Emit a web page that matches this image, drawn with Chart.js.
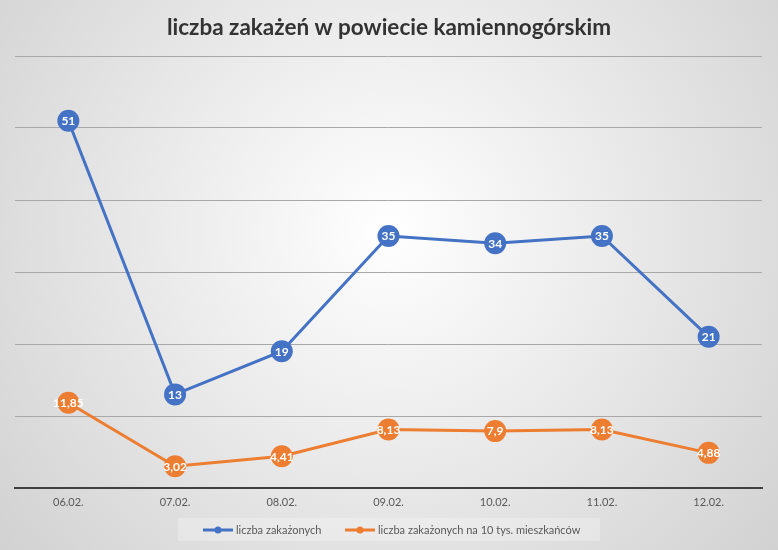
<!DOCTYPE html>
<html><head><meta charset="utf-8">
<script src="https://cdn.jsdelivr.net/npm/chart.js@4/dist/chart.umd.min.js"></script>
<style>html,body{margin:0;padding:0;background:#fff}#wrap{width:778px;height:550px;position:relative}</style>
</head><body><div id="wrap"><canvas id="c" width="778" height="550"></canvas></div>
<script>
const chartTitle = "liczba zakażeń w powiecie kamiennogórskim";
const categories = ["06.02.","07.02.","08.02.","09.02.","10.02.","11.02.","12.02."];
const seriesNames = ["liczba zakażonych","liczba zakażonych na 10 tys. mieszkańców"];
const infected = [51,13,19,35,34,35,21];
const infectedPer10k = [11.85,3.02,4.41,8.13,7.9,8.13,4.88];
const colors = ["#4472C4","#ED7D31"];

const bgPlugin = {
  id:'bg',
  beforeDraw(chart){
    const ctx = chart.ctx, w = chart.width, h = chart.height;
    ctx.save();
    const g = ctx.createRadialGradient(w/2, h*0.42, 0, w/2, h*0.42, 520);
    g.addColorStop(0, '#ffffff');
    g.addColorStop(1, '#d0d0d0');
    ctx.fillStyle = g;
    ctx.fillRect(0,0,w,h);
    ctx.fillStyle = '#333333';
    ctx.font = 'bold 22.5px Lato';
    ctx.textAlign = 'center';
    ctx.textBaseline = 'middle';
    ctx.fillText(chartTitle, w/2, 28);
    ctx.restore();
  },
  afterDraw(chart){
    const ctx = chart.ctx;
    ctx.save();
    chart.data.datasets.forEach((ds, di) => {
      const meta = chart.getDatasetMeta(di);
      meta.data.forEach((pt, i) => {
        ctx.fillStyle = '#ffffff';
        ctx.font = 'bold 12px Lato';
        ctx.textAlign = 'center';
        ctx.textBaseline = 'middle';
        ctx.fillText(String(ds.data[i]).replace('.', ','), pt.x, pt.y + 0.5);
      });
    });
    ctx.fillStyle = 'rgba(255,255,255,0.25)';
    ctx.fillRect(178, 518, 422, 23);
    ctx.font = '11px Lato';
    ctx.textBaseline = 'middle';
    ctx.textAlign = 'left';
    const items = [{x:203, tx:236},{x:345, tx:378}];
    chart.data.datasets.forEach((ds, di) => {
      const it = items[di], y = 530;
      ctx.strokeStyle = ds.borderColor;
      ctx.lineWidth = 3;
      ctx.beginPath(); ctx.moveTo(it.x, y); ctx.lineTo(it.x+30, y); ctx.stroke();
      ctx.fillStyle = ds.borderColor;
      ctx.beginPath(); ctx.arc(it.x+15, y, 3.5, 0, Math.PI*2); ctx.fill();
      ctx.fillStyle = '#595959';
      ctx.fillText(ds.label, it.tx, y);
    });
    ctx.restore();
  }
};

new Chart(document.getElementById('c'), {
  type:'line',
  data:{
    labels: categories,
    datasets:[
      {label: seriesNames[0], data: infected, borderColor: colors[0], backgroundColor: colors[0], borderWidth: 3, pointRadius: 11, pointHoverRadius: 11, pointBorderWidth: 0, tension: 0},
      {label: seriesNames[1], data: infectedPer10k, borderColor: colors[1], backgroundColor: colors[1], borderWidth: 3, pointRadius: 11, pointHoverRadius: 11, pointBorderWidth: 0, tension: 0}
    ]
  },
  options:{
    responsive:false, animation:false,
    events: [],
    layout:{padding:{top:56, left:15, right:16, bottom:40}},
    plugins:{legend:{display:false}, title:{display:false}, tooltip:{enabled:false}},
    scales:{
      x:{
        offset:true,
        grid:{display:false, drawTicks:false},
        border:{display:true, color:'#404040', width:2},
        ticks:{color:'#595959', font:{family:'Lato', size:11}, padding:8},
        afterFit(s){ s.height = 22; }
      },
      y:{
        min:0, max:60,
        ticks:{display:false, stepSize:10},
        grid:{color:'#a8a8a8', lineWidth:1, drawTicks:false},
        border:{display:false},
        afterFit(s){ s.width = 0; }
      }
    }
  },
  plugins:[bgPlugin]
});
</script>
</body></html>
